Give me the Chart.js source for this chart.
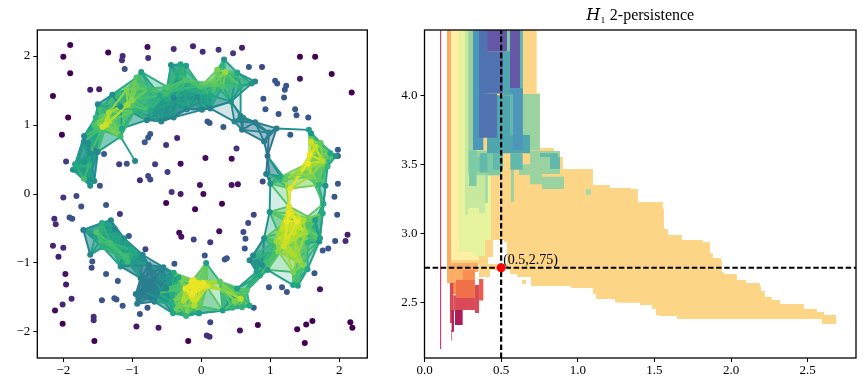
<!DOCTYPE html>
<html>
<head>
<meta charset="utf-8">
<script src="https://cdn.jsdelivr.net/npm/chart.js@4"></script>
<style>
  body { margin: 0; background: #fff; }
  canvas { position: absolute; top: 0; }
</style>
</head>
<body>
<canvas id="cloud" width="385" height="390" style="left:0"></canvas>
<canvas id="persistence" width="480" height="390" style="left:385px"></canvas>
<script>
// points outside the ring
const looseX = [-1.90,-2.0,-1.90,-2.15,-1.93,-2.02,-1.61,-1.48,-1.35,-.78,-.40,-.12,-1.14,-1.15,-.77,-1.11,-1.96,-1.41,-1.19,-1.08,-.67,-.77,-.74,-.82,-.51,-.35,-.30,-.49,-.77,-.74,-.89,-.43,-.30,-.02,-1.47,-1.81,-2.0,
  .02,.25,.46,.59,.69,.88,1.43,1.65,1.89,1.43,2.18,1.07,1.10,1.23,1.21,.90,1.20,.93,1.12,1.36,1.38,1.55,1.29,.32,.09,.12,.51,.06,.44,.44,.53,.03,.89,1.98,1.98,1.98,1.93,
  -1.74,-1.38,-1.18,-1.05,-2.13,-2.11,-1.91,-1.87,-2.15,-2.0,-2.07,-.81,-.39,-1.58,-1.59,-1.38,-1.21,-1.97,-1.96,-1.88,-2.01,-2.12,-2.01,-1.44,-1.26,-1.23,-1.14,-.78,-.89,-1.56,-1.56,-1.55,-.94,-.62,-.19,-.51,-.32,-.29,-.09,-.11,
  .30,.76,.68,.26,.61,.64,.13,.63,.05,.34,.37,1.97,2.12,2.09,1.94,1.76,1.84,1.64,1.72,.98,1.17,1.24,.76,.13,.08,.12,.56,.82,1.39,1.52,1.61,1.50,2.16,2.19];
const looseY = [2.16,1.99,1.75,1.42,1.11,.86,1.51,1.52,2.05,2.13,2.10,2.14,2.0,1.94,1.97,1.81,.47,.58,.43,.44,.43,.82,.87,.75,.71,.81,.44,.32,.26,.21,.20,.03,0,.13,.12,-.03,-.05,
  2.06,2.09,2.04,2.12,1.84,1.84,1.99,1.99,1.74,1.67,1.47,1.64,1.60,1.57,1.51,1.38,1.40,1.23,1.16,1.23,1.14,1.11,.86,.97,1.05,1.03,.66,.52,.51,.13,.14,0,.18,.64,.55,.15,-.04,
  -.18,-.16,-.29,-.61,-.36,-.44,-.34,-.36,-.75,-.78,-.91,-.80,-1.01,-.98,-1.07,-1.16,-1.26,-1.16,-1.31,-1.52,-1.6,-1.69,-1.88,-1.54,-1.51,-1.53,-1.62,-1.65,-1.74,-1.78,-1.83,-2.13,-1.92,-1.94,-2.13,-.13,-.56,-.62,-.22,-.66,
  -.14,-.30,-.42,-.54,-.55,-.65,-.70,-.79,-.89,-.95,-.93,-.30,-.59,-.68,-.68,-.82,-.79,-1.15,-1.38,-1.35,-1.35,-1.42,-1.65,-1.86,-2.05,-2.07,-1.98,-1.90,-1.96,-1.89,-1.84,-2.16,-1.86,-1.94];
const looseLevel = [0,0,0,0,0,0,.08,.08,0,.03,.12,.1,.12,.15,.15,.25,.18,.28,.18,.25,.18,.28,.28,.28,.15,.1,.02,.18,.22,.22,.12,.15,.08,.05,.25,.22,.14,
  .13,.15,.17,.08,.28,.2,0,0,0,.06,0,.27,.27,.27,.27,.27,.27,.27,.27,.27,.27,.25,.28,.28,.28,.28,.15,.03,.03,.05,.03,.03,.22,.27,.3,.27,.27,
  .25,.27,.15,.28,.12,.12,.25,.25,.1,.12,.08,.2,.27,.27,.22,.27,.27,.05,.08,.1,.1,.03,0,.25,.27,.27,.27,.27,.25,.13,.13,0,.05,.07,0,0,.02,.04,0,.2,
  0,.2,.22,.03,.22,.25,.15,.27,.27,.27,.27,.25,.08,.12,.25,.28,.27,.27,.05,.27,.27,.27,.3,.2,.13,.13,.05,0,0,0,0,0,0,0];

// ring points that carry the complex
const meshX = [-1.61,-1.55,-1.64,-1.70,-1.63,-1.83,-1.86,-1.81,-1.61,-1.70,-1.70,-1.50,-1.55,-1.52,-1.53,-1.50,-1.29,-1.34,-1.34,-1.43,-1.38,-1.17,-1.15,-.96,-1.08,-.93,-1.0,-1.07,-.96,-.94,-.87,-.75,-.60,-.74,-.51,-.43,-.49,-.58,-.40,-.44,-.30,-.22,-.35,-.28,-.23,-.21,-.01,
  .14,.19,.23,.33,.35,.31,.52,.57,.73,.78,.43,.57,.01,.13,.48,.61,.78,.59,.98,1.09,.91,.96,.94,1.56,1.59,1.59,1.73,1.65,1.57,1.54,1.76,1.87,1.95,1.41,1.59,1.15,1.22,1.83,1.70,1.80,1.29,1.0,
  1.27,.99,1.27,1.24,1.39,1.48,1.76,1.77,1.65,1.51,1.12,1.35,1.22,1.09,.91,1.54,1.72,1.71,1.11,1.20,1.38,.96,.75,.70,.88,.85,.80,1.33,1.47,1.54,1.33,1.40,.52,.59,.66,.48,.57,.45,.59,.70,.32,.27,.31,-.03,.07,-.11,-.14,.03,.08,-.10,
  -.14,-.23,-.14,-.06,-.40,-.33,-.51,-.43,-.30,-.41,-.22,-.04,-.10,-.55,-.68,-.84,-.95,-.93,-.88,-.85,-1.07,-1.17,-1.09,-1.02,-.96,-1.12,-1.31,-1.44,-1.52,-1.71,-1.61,-1.46,-1.32,-1.43,-1.25,-.64,-.69,-.76,-.40,-.79,-1.17,-.06];
const meshY = [.12,.19,.20,.22,.41,.43,.35,.39,.59,.76,.84,.61,1.0,.95,1.11,1.30,1.44,1.18,1.05,.97,1.0,.83,.95,.48,1.51,1.56,1.36,1.29,1.21,1.69,1.77,1.53,1.43,1.21,1.45,1.31,1.55,1.05,1.11,1.87,1.88,1.86,1.75,1.53,1.65,1.23,1.56,
  1.43,1.60,1.80,1.95,1.77,1.56,1.76,1.56,1.60,1.63,1.34,1.13,1.22,1.24,1.05,1.10,1.04,.93,.89,.95,.76,.55,.29,.93,.88,.76,.74,.69,.57,.44,.48,.59,.55,.30,.25,.25,.21,.40,.13,.12,.08,.15,
  -.18,-.26,-.28,-.40,-.40,-.38,-.28,-.14,-.38,-.56,-.57,-.64,-.69,-.69,-.64,-.71,-.64,-.69,-.83,-.76,-.95,-1.10,-.89,-.96,-1.03,-1.18,-1.13,-1.13,-1.03,-1.09,-1.32,-1.33,-1.37,-1.46,-1.40,-1.55,-1.52,-1.65,-1.64,-1.62,-1.39,-1.27,-1.69,-1.73,-1.0,-1.25,-1.44,-1.29,-1.34,-1.61,
  -1.27,-1.37,-1.46,-1.34,-1.14,-1.21,-1.37,-1.57,-1.62,-1.73,-1.77,-1.73,-1.62,-1.06,-1.56,-1.42,-1.45,-1.59,-1.22,-.88,-.98,-1.05,-.90,-.80,-.84,-.64,-.38,-.42,-.55,-.52,-.88,-.68,-.71,-.77,-.51,-1.44,-1.25,-1.03,1.39,1.07,1.27,1.41];
const meshLevel = [.5,.5,.5,.7,.65,.6,.5,.6,.5,.47,.45,.45,.72,.7,.65,.47,.5,.87,.88,.92,.92,.68,.6,.45,.8,.75,.82,.85,.65,.72,.55,.68,.6,.6,.68,.55,.72,.45,.45,.5,.58,.55,.62,.65,.72,.45,.72,
  .6,.75,.8,.5,.85,.72,.6,.62,.5,.45,.5,.45,.45,.45,.45,.45,.42,.42,.45,.42,.42,.35,.42,.55,.5,.92,.75,.9,.97,.97,.88,.6,.5,.85,.8,.6,.75,.65,.65,.5,.95,.5,
  .95,.5,.97,.97,.97,.88,.6,.6,.55,.85,.85,.88,.92,.85,.5,.65,.55,.5,.82,.92,.85,.55,.45,.45,.5,.6,.55,.8,.82,.6,.6,.55,.55,.72,.72,.8,.9,.65,.65,.6,.8,.75,.55,.55,.55,.97,.97,.97,.95,.88,
  .97,.97,.97,.97,.6,.6,.45,.62,.78,.6,.65,.55,.85,.45,.45,.42,.42,.42,.42,.47,.68,.5,.68,.6,.6,.5,.45,.62,.72,.42,.45,.68,.7,.62,.45,.45,.42,.42,.45,.45,.5,.5];
const meshRadius = 0.44;
const extraEdges = [[66, 70], [69, 82]];

// step outline of the widest band
const amberX = [.147,.732,.732,.751,.751,.845,.845,.884,.884,.903,.903,1.099,1.099,1.21,1.21,1.347,1.347,1.392,1.392,1.555,1.555,1.562,1.562,1.588,1.588,1.679,1.679,1.816,1.816,1.862,1.862,1.881,1.881,1.934,1.934,1.94,1.94,1.953,1.953,2.038,2.038,2.097,2.097,2.188,2.188,2.195,2.195,2.221,2.221,2.266,2.266,2.319,2.319,2.475,2.475,2.56,2.56,2.606,2.606,2.684,2.684,2.592,2.592,1.647,1.647,1.53,1.53,1.51,1.51,1.484,1.484,1.405,1.405,1.255,1.255,1.242,1.242,1.118,1.118,1.099,1.099,.955,.955,.695,.695,.603,.603,.558,.558,.538,.538,.519,.519,.447,.447,.414,.414,.473,.473,.427,.427,.356,.356,.147];
const amberY = [4.48,4.48,4.014,4.014,3.618,3.618,3.596,3.596,3.553,3.553,3.466,3.466,3.35,3.35,3.328,3.328,3.321,3.321,3.227,3.227,3.176,3.176,3.031,3.031,2.988,2.988,2.951,2.951,2.937,2.937,2.857,2.857,2.821,2.821,2.806,2.806,2.72,2.72,2.705,2.705,2.662,2.662,2.64,2.64,2.618,2.618,2.582,2.582,2.538,2.538,2.517,2.517,2.488,2.488,2.451,2.451,2.429,2.429,2.408,2.408,2.343,2.343,2.379,2.379,2.401,2.401,2.408,2.408,2.451,2.451,2.48,2.48,2.497,2.497,2.502,2.502,2.524,2.524,2.56,2.56,2.604,2.604,2.618,2.618,2.683,2.683,2.705,2.705,2.734,2.734,2.937,2.937,2.951,2.951,2.828,2.828,2.778,2.778,2.734,2.734,2.683,2.683,2.77,2.77];

// bands as [x from, x to, y from, y to]
const amberBoxes = [[.636,.662,2.633,2.662]];
const magentaBoxes = [[.101,.109,2.162,4.48]];
const paleOrangeBoxes = [[.122,.127,2.56,4.48],[.147,.173,2.77,4.48],[.147,.251,2.64,2.785],[.251,.349,2.72,2.785]];
const orangeBoxes = [[.251,.329,2.662,2.734],[.179,.251,2.56,2.64]];
const redOrangeBoxes = [[.205,.329,2.531,2.662]];
const salmonBoxes = [[.356,.384,2.512,2.669]];
const roseBoxes = [[.166,.188,2.35,2.64],[.205,.329,2.444,2.531],[.329,.356,2.422,2.625],[.188,.205,2.44,2.55]];
const crimsonBoxes = [[.199,.249,2.336,2.444],[.177,.192,2.287,2.444],[.176,.18,2.222,2.3]];
const paleYellowBoxes = [[.173,.228,2.807,4.48],[.228,.354,2.807,2.864],[.558,.577,4.009,4.053]];
const limeBoxes = [[.228,.264,2.951,4.48],[.264,.434,2.951,3.604],[.316,.395,2.836,3.0],[.228,.316,2.864,2.951]];
const lightGreenBoxes = [[.264,.286,3.133,4.48],[.284,.354,3.183,3.35],[.356,.395,3.147,3.459],[.34,.36,3.2,3.46]];
const paleGreenBoxes = [[.395,.414,3.22,3.422],[1.053,1.086,3.277,3.321]];
const greenBoxes = [[.286,.316,3.45,4.48],[.642,.753,3.6,4.009],[.286,.44,3.42,3.6],[.688,.884,3.43,3.596],[.766,.91,3.321,3.41],[.688,.766,3.355,3.43],[.616,.688,3.422,3.5],[.564,.584,3.229,3.46]];
const mintBoxes = [[.29,.34,3.343,3.6],[.41,.5,3.42,3.58],[.34,.44,3.45,3.55],[.538,.558,4.06,4.48]];
const tealLightBoxes = [[.36,.41,3.44,3.58],[.56,.64,3.46,3.58],[.753,.871,3.553,3.58],[.819,.884,3.466,3.553],[.447,.512,3.46,3.58],[.623,.642,4.0,4.48],[.558,.577,3.604,4.009]];
const tealBoxes = [[.408,.688,3.58,3.712],[.473,.558,3.712,4.0],[.512,.558,4.0,4.319]];
const blueBoxes = [[.316,.384,3.604,4.48],[.577,.642,3.604,4.009],[.558,.642,4.009,4.053]];
const slateBoxes = [[.356,.473,3.693,4.012],[.356,.408,4.012,4.48],[.375,.512,4.012,4.319]];
const violetBoxes = [[.408,.538,4.319,4.48],[.558,.623,4.053,4.48]];

const crossX = 0.5;
const crossY = 2.75;
const xTicksLeft = [-2, -1, 0, 1, 2];
const yTicksLeft = [-2, -1, 0, 1, 2];
const xTicksRight = [0, 0.5, 1, 1.5, 2, 2.5];
const yTicksRight = [2.5, 3, 3.5, 4];

const tickFont = { family: '"Liberation Serif"', size: 13 };
const viridisStops = [[68,1,84],[72,36,117],[65,68,135],[53,95,141],[42,120,142],[33,145,140],[34,168,132],[68,191,112],[122,209,81],[189,223,38],[253,231,37]];

function viridis(v, alpha) {
  const t = Math.min(Math.max(v, 0), 1) * 10;
  const i = Math.min(Math.floor(t), 9);
  const f = t - i;
  const c = viridisStops[i].map((s, k) => Math.round(s + (viridisStops[i + 1][k] - s) * f));
  return alpha === undefined ? `rgb(${c})` : `rgba(${c},${alpha})`;
}

function frameAndTicks(ticks, fixed, isX) {
  return {
    type: 'linear', min: fixed[0], max: fixed[1],
    afterBuildTicks: s => { s.ticks = ticks.map(value => ({ value })); },
    afterFit: s => { if (isX) s.height = 32; else s.width = fixed[2]; },
    grid: { drawOnChartArea: false, color: '#000', tickLength: 4, tickColor: '#000' },
    border: { display: false },
    ticks: {
      color: '#000', font: tickFont, padding: isX ? 1 : 3, maxRotation: 0, autoSkip: false,
      callback: v => (fixed[3] ? v.toFixed(1) : String(v).replace('-', '\u2212'))
    }
  };
}

const boxFrame = {
  id: 'boxFrame',
  afterDraw(chart) {
    const { ctx, chartArea: a } = chart;
    ctx.save();
    ctx.strokeStyle = '#000';
    ctx.lineWidth = 1.3;
    ctx.strokeRect(a.left, a.top, a.right - a.left, a.bottom - a.top);
    ctx.restore();
  }
};

// complex: edges and triangles from the distance threshold
const dist = (a, b) => Math.hypot(meshX[a] - meshX[b], meshY[a] - meshY[b]);
const linked = (a, b) => dist(a, b) < meshRadius;
const cloudSets = [];
for (let a = 0; a < meshX.length; a++) {
  for (let b = a + 1; b < meshX.length; b++) {
    if (!linked(a, b)) continue;
    for (let c = b + 1; c < meshX.length; c++) {
      if (!linked(a, c) || !linked(b, c)) continue;
      cloudSets.push({
        data: [a, b, c, a].map(i => ({ x: meshX[i], y: meshY[i] })),
        showLine: true, fill: 'shape', borderWidth: 0, pointRadius: 0, order: 30,
        backgroundColor: viridis((meshLevel[a] + meshLevel[b] + meshLevel[c]) / 3 - 0.05, 0.2)
      });
    }
  }
}
const edgeList = [];
for (let a = 0; a < meshX.length; a++) {
  for (let b = a + 1; b < meshX.length; b++) {
    if (linked(a, b)) edgeList.push([a, b]);
  }
}
edgeList.concat(extraEdges).sort((p, q) => (meshLevel[p[0]] + meshLevel[p[1]]) - (meshLevel[q[0]] + meshLevel[q[1]])).forEach((e, i) => {
  cloudSets.push({
    data: e.map(k => ({ x: meshX[k], y: meshY[k] })),
    showLine: true, borderWidth: 1.9, pointRadius: 0, order: 20 - i / 10000,
    borderColor: viridis((meshLevel[e[0]] + meshLevel[e[1]]) / 2)
  });
});
cloudSets.push({
  data: looseX.map((x, i) => ({ x, y: looseY[i] })),
  pointRadius: 3, pointBorderWidth: 0, order: 2,
  pointBackgroundColor: looseLevel.map(v => viridis(v))
});
const meshOrder = meshX.map((_, i) => i).sort((a, b) => meshLevel[a] - meshLevel[b]);
cloudSets.push({
  data: meshOrder.map(i => ({ x: meshX[i], y: meshY[i] })),
  pointRadius: 3, pointBorderWidth: 0, order: 1,
  pointBackgroundColor: meshOrder.map(i => viridis(meshLevel[i]))
});

new Chart(document.getElementById('cloud'), {
  type: 'scatter',
  data: { datasets: cloudSets },
  options: {
    responsive: false, animation: false,
    events: [],
    layout: { padding: { top: 30, right: 17.7, left: 0, bottom: 0 } },
    plugins: { legend: { display: false }, tooltip: { enabled: false } },
    scales: {
      x: frameAndTicks(xTicksLeft, [-2.377, 2.406], true),
      y: frameAndTicks(yTicksLeft, [-2.377, 2.377, 37.3], false)
    }
  },
  plugins: [boxFrame]
});

function boxShape(b) {
  return [{ x: b[0], y: b[2] }, { x: b[1], y: b[2] }, { x: b[1], y: b[3] }, { x: b[0], y: b[3] }, { x: b[0], y: b[2] }];
}
const bandLayers = [
  [amberBoxes, '#fdd586'], [magentaBoxes, '#c4457b'], [paleOrangeBoxes, '#fbad66'], [orangeBoxes, '#f98e52'],
  [redOrangeBoxes, '#f0704a'], [roseBoxes, '#d84a58'], [salmonBoxes, '#e85d4c'], [crimsonBoxes, '#b01c56'],
  [paleYellowBoxes, '#fff0a6'], [limeBoxes, '#e6f49d'], [lightGreenBoxes, '#c7e89f'], [paleGreenBoxes, '#a8dca2'],
  [greenBoxes, '#9ad3a0'], [mintBoxes, '#7ccaa6'], [tealLightBoxes, '#62b8ab'], [tealBoxes, '#4fa6ae'],
  [blueBoxes, '#4d97ba'], [slateBoxes, '#4f73b0'], [violetBoxes, '#6457a6']
];
const persistenceSets = [{
  data: amberX.map((x, i) => ({ x, y: amberY[i] })).concat([{ x: amberX[0], y: amberY[0] }]),
  showLine: true, fill: 'shape', borderWidth: 0, pointRadius: 0, backgroundColor: '#fdd586', order: 500
}];
let layerOrder = 400;
bandLayers.forEach(([boxes, color]) => {
  boxes.forEach(b => {
    persistenceSets.push({
      data: boxShape(b), showLine: true, fill: 'shape', borderWidth: 0, pointRadius: 0,
      backgroundColor: color, order: layerOrder--
    });
  });
});
const dashStyle = { showLine: true, borderColor: '#000', borderWidth: 2.2, borderDash: [5.5, 2.6], pointRadius: 0, order: 3 };
persistenceSets.push({ ...dashStyle, data: [{ x: crossX, y: 2.096 }, { x: crossX, y: 4.473 }] });
persistenceSets.push({ ...dashStyle, data: [{ x: 0, y: crossY }, { x: 2.815, y: crossY }] });
persistenceSets.push({ data: [{ x: crossX, y: crossY }], pointRadius: 4.5, pointBorderWidth: 0, pointBackgroundColor: '#ff0000', order: 1 });

const crossLabel = {
  id: 'crossLabel',
  afterDatasetsDraw(chart) {
    const { ctx, scales } = chart;
    ctx.save();
    ctx.font = '14px "Liberation Serif"';
    ctx.fillStyle = '#000';
    ctx.textBaseline = 'bottom';
    ctx.fillText(`(${crossX},${crossY})`, scales.x.getPixelForValue(crossX) + 2, scales.y.getPixelForValue(crossY));
    ctx.restore();
  }
};

new Chart(document.getElementById('persistence'), {
  type: 'scatter',
  data: { datasets: persistenceSets },
  options: {
    responsive: false, animation: false,
    events: [],
    layout: { padding: { top: 0, right: 9, left: 0, bottom: 0 } },
    plugins: {
      legend: { display: false }, tooltip: { enabled: false },
      title: {
        display: true, fullSize: false, text: '\u{1D43B}\u2081 2-persistence', color: '#000',
        font: { family: '"Liberation Serif","DejaVu Serif"', size: 16, weight: 'normal', lineHeight: 1.2 },
        padding: { top: 6.4, bottom: 4.4 }
      }
    },
    scales: {
      x: frameAndTicks(xTicksRight, [0, 2.815, 0, true], true),
      y: frameAndTicks(yTicksRight, [2.096, 4.473, 39.5, true], false)
    }
  },
  plugins: [boxFrame, crossLabel]
});
</script>
</body>
</html>
